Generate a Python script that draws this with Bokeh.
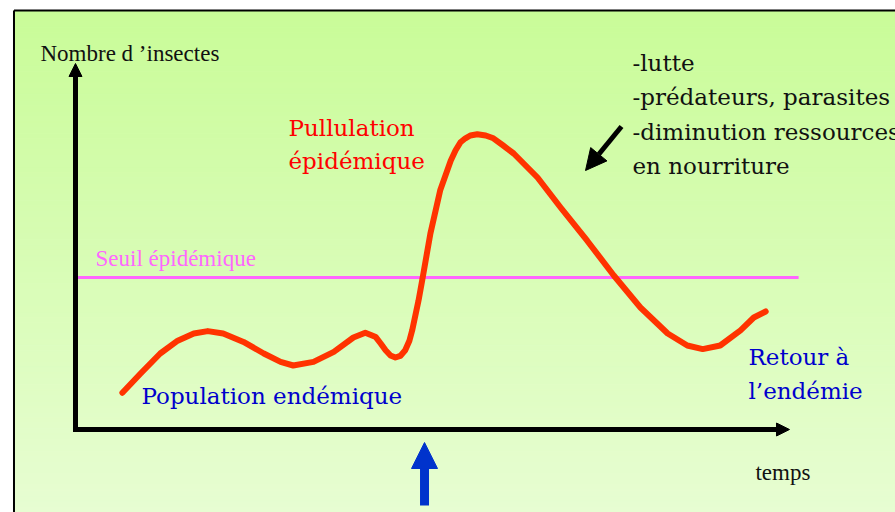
import numpy as np
from bokeh.plotting import figure
from bokeh.models import Range1d, Label, Arrow, NormalHead
from bokeh.embed import file_html
from bokeh.resources import INLINE

# ---- data (time units / insect-count units) ----
time = [6.7, 9.3, 12.1, 14.6, 16.9, 18.9, 21.1, 24.0, 26.9, 29.3, 31.1, 34.0,
        36.9, 39.7, 41.4, 42.9, 43.6, 44.3, 45.0, 45.7, 46.4, 47.1, 47.7, 48.1,
        49.0, 49.6, 50.7, 52.1, 53.6, 54.3, 55.0, 55.7, 56.4, 57.4, 58.6, 59.7,
        61.1, 62.6, 66.0, 69.3, 73.1, 76.9, 80.7, 84.6, 87.4, 89.6, 92.1, 95.0,
        96.9, 98.6]
insects = [9.2, 14.0, 19.0, 22.2, 24.0, 24.6, 24.0, 21.9, 19.0, 16.9, 16.0, 16.9,
           19.4, 23.0, 24.2, 23.1, 21.5, 19.8, 18.5, 18.0, 18.4, 19.8, 22.2, 24.8,
           32.2, 38.0, 49.0, 59.8, 67.2, 69.8, 71.8, 72.8, 73.5, 73.8, 73.5, 72.8,
           71.0, 69.0, 63.0, 55.5, 47.2, 38.5, 30.5, 24.0, 21.0, 20.1, 21.0, 24.8,
           28.0, 29.5]
threshold = 38.0
threshold_from, threshold_to = 0.3, 103.3
axis_time_max = 102.0
axis_count_max = 91.5
trigger_time = 49.86

y_title = "Nombre d \u2019insectes"
x_title = "temps"
threshold_label = "Seuil épidémique"
peak_label = ["Pullulation", "épidémique"]
endemic_label = "Population endémique"
return_label = ["Retour à", "l\u2019endémie"]
causes = ["-lutte", "-prédateurs, parasites", "-diminution ressources", "en nourriture"]

SMALL_FONT = "Liberation Serif"
BIG_FONT = "DejaVu Serif"
BIG = "23px"

X0, X1 = -10.714, 117.143
Y0, Y1 = -20.75, 107.25

p = figure(width=895, height=512,
           x_range=Range1d(X0, X1), y_range=Range1d(Y0, Y1),
           output_backend="svg", toolbar_location=None, min_border=0,
           x_axis_type=None, y_axis_type=None)
p.grid.visible = False
p.outline_line_color = None
p.background_fill_color = "white"
p.border_fill_color = "white"

# background gradient (styling)
n = 90
left_edge, top_edge = -8.786, 104.75
edges = np.linspace(top_edge, Y0, n + 1)
top_rgb = np.array([201, 252, 152])
bot_rgb = np.array([231, 253, 210])
cols = []
for i in range(n):
    f = (i + 0.5) / n
    rgb = top_rgb + (bot_rgb - top_rgb) * f
    cols.append("#%02x%02x%02x" % tuple(int(round(v)) for v in rgb))
p.quad(left=left_edge, right=X1, top=edges[:-1], bottom=edges[1:],
       fill_color=cols, line_color=cols, line_width=1)

# frame border lines
p.segment(x0=[left_edge, left_edge], y0=[top_edge, top_edge],
          x1=[X1, left_edge], y1=[top_edge, Y0],
          line_color="black", line_width=2)

# threshold
p.line([threshold_from, threshold_to], [threshold, threshold],
       line_color="#ff66ff", line_width=3)

# curve
p.line(time, insects, line_color="#ff3300", line_width=6,
       line_join="round", line_cap="round")

# axes arrows
p.add_layout(Arrow(end=NormalHead(size=13, fill_color="black", line_color="black"),
                   x_start=-0.3, y_start=0, x_end=axis_time_max, y_end=0,
                   line_width=5, line_color="black"))
p.add_layout(Arrow(end=NormalHead(size=13, fill_color="black", line_color="black"),
                   x_start=0, y_start=-0.6, x_end=0, y_end=axis_count_max,
                   line_width=5, line_color="black"))

# trigger arrow (blue)
p.add_layout(Arrow(end=NormalHead(size=26, fill_color="#0033cc", line_color="#0033cc"),
                   x_start=trigger_time, y_start=-19.0, x_end=trigger_time, y_end=-3.25,
                   line_width=9, line_color="#0033cc"))

# causes arrow (black diagonal)
p.add_layout(Arrow(end=NormalHead(size=21, fill_color="black", line_color="black"),
                   x_start=78.0, y_start=75.75, x_end=72.86, y_end=64.75,
                   line_width=5, line_color="black"))


def lab(x, y, text, size, color, font):
    p.add_layout(Label(x=x, y=y, text=text, text_font=font, text_font_size=size,
                       text_color=color, text_align="left", text_baseline="alphabetic"))


lab(-5.0, 94.0, y_title, "23px", "#111111", SMALL_FONT)
lab(97.14, -10.75, x_title, "23px", "#111111", SMALL_FONT)
lab(2.86, 42.75, threshold_label, "23px", "#ff66ff", SMALL_FONT)
lab(30.43, 75.5, peak_label[0], BIG, "#ff0000", BIG_FONT)
lab(30.43, 67.25, peak_label[1], BIG, "#ff0000", BIG_FONT)
lab(9.43, 8.4, endemic_label, BIG, "#0000cc", BIG_FONT)
lab(96.14, 18.25, return_label[0], BIG, "#0000cc", BIG_FONT)
lab(96.14, 9.75, return_label[1], BIG, "#0000cc", BIG_FONT)
for yy, t in zip([91.75, 83.1, 74.5, 65.9], causes):
    lab(79.57, yy, t, BIG, "#111111", BIG_FONT)

open("out.html", "w").write(file_html(p, INLINE))
